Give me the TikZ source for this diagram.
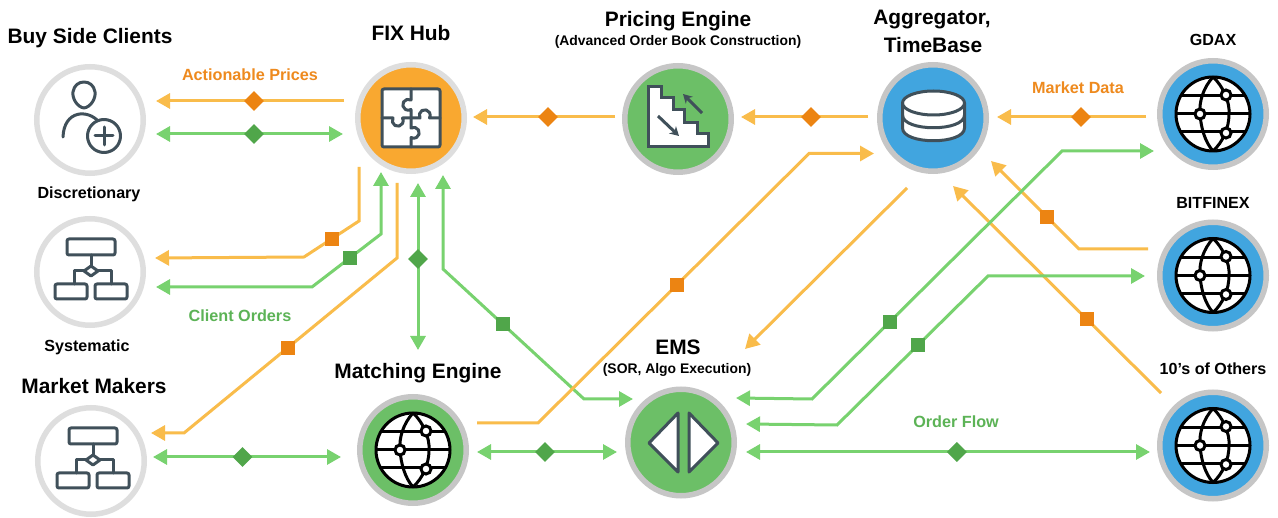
\documentclass[tikz,border=0pt]{standalone}
\usepackage{fontspec}
\setmainfont{Liberation Sans}
\usetikzlibrary{arrows.meta,shapes.geometric}
\definecolor{lineO}{HTML}{F9BC4B}
\definecolor{lineG}{HTML}{78D26F}
\definecolor{markO}{HTML}{EC8412}
\definecolor{markG}{HTML}{50A64A}
\definecolor{fillO}{HTML}{F9A830}
\definecolor{fillG}{HTML}{6CBF67}
\definecolor{fillB}{HTML}{41A5DF}
\definecolor{ringL}{HTML}{DEDEDE}
\definecolor{ringD}{HTML}{C6C6C6}
\definecolor{slate}{HTML}{40505A}
\definecolor{txtO}{HTML}{EE8A1E}
\definecolor{txtG}{HTML}{5CB356}
\newcommand{\fs}[1]{\fontsize{#1}{#1}\selectfont\bfseries}
\tikzset{
  hub/.style={circle,inner sep=0pt,minimum size=106.5pt,line width=5.5pt,draw=ringD},
  client/.style={hub,draw=ringL,fill=white},
  ol/.style={draw=lineO,line width=3pt},
  gl/.style={draw=lineG,line width=3pt},
  oend/.style={ol,-{Triangle[length=14pt,width=15pt]}},
  gboth/.style={gl,{Triangle[length=14pt,width=15pt]}-{Triangle[length=14pt,width=15pt]}},
  dmdO/.style={diamond,fill=markO,inner sep=0pt,minimum size=20pt},
  dmdG/.style={diamond,fill=markG,inner sep=0pt,minimum size=20pt},
  sqO/.style={rectangle,fill=markO,inner sep=0pt,minimum size=14pt},
  sqG/.style={rectangle,fill=markG,inner sep=0pt,minimum size=14pt},
  head/.style={inner sep=0pt,align=center,font=\fs{20.9}},
  subh/.style={inner sep=0pt,font=\fs{16.1}},
  small/.style={inner sep=0pt,font=\fs{13.9}},
  labO/.style={inner sep=0pt,font=\fs{16.2},text=txtO},
  labG/.style={inner sep=0pt,font=\fs{16.2},text=txtG},
  icon/.style={draw=slate,line width=3pt,line join=round,line cap=round},
  globeicon/.pic={
    \begin{scope}[draw=black,line width=3pt]
      \filldraw[fill=white] (0,0) circle[radius=37];
      \draw (-32,-18) -- (32,-18) (-37,0) -- (37,0) (-32,18) -- (32,18);
      \draw (0,-37) .. controls (-10,-26) and (-14,-12) .. (-13,0) .. controls (-12,14) and (-8,28) .. (0,37);
      \draw (0,-37) .. controls (10,-28) and (17,-12) .. (16,0) .. controls (16,14) and (10,28) .. (0,37);
      \filldraw[fill=white] (-13,0) circle[radius=5];
      \filldraw[fill=white] (13,-19) circle[radius=5];
      \filldraw[fill=white] (13,19) circle[radius=5];
    \end{scope}
  },
  flowicon/.pic={
    \begin{scope}[icon]
      \draw[rounded corners=2pt] (-24,-32) rectangle (24,-16);
      \draw (0,-16) -- (0,-5);
      \draw (-7,0) -- (-17,0) -- (-17,13);
      \draw (7,0) -- (20,0) -- (20,13);
      \draw (0,-5) -- (7,0) -- (0,5) -- (-7,0) -- cycle;
      \draw[rounded corners=2pt] (-36,13) rectangle (-4,28);
      \draw[rounded corners=2pt] (4,13) rectangle (36,28);
    \end{scope}
  },
  personicon/.pic={
    \begin{scope}[icon]
      \draw (-6,-11) .. controls (-13,-12) and (-18,-21) .. (-17,-27) .. controls (-16,-34) and (-11,-37) .. (-6,-37)
            .. controls (-1,-37) and (4,-34) .. (5,-27) .. controls (6,-21) and (1,-12) .. (-6,-11) -- cycle;
      \draw (-27,18) .. controls (-26,-9) and (-2,-10) .. (9,3);
      \filldraw[fill=white] (14,17) circle[radius=16.5];
      \draw (14,8) -- (14,26) (5,17) -- (23,17);
    \end{scope}
  },
  puzzleicon/.pic={
    \begin{scope}[icon]
      \filldraw[fill=white,rounded corners=2pt] (-29,-29) rectangle (29,29);
      \draw (0,-29) -- (0,-18) arc[start angle=-60,end angle=-300,radius=5.5] -- (0,0)
            -- (0,10) arc[start angle=-120,end angle=120,radius=5.5] -- (0,29);
      \draw (-29,0) -- (-18,0) arc[start angle=210,end angle=-30,radius=5.5] -- (0,0);
      \draw (0,0) -- (9,0) arc[start angle=150,end angle=390,radius=5.5] -- (29,0);
    \end{scope}
  },
  stairsicon/.pic={
    \begin{scope}[icon,line join=miter,line cap=butt]
      \filldraw[fill=white] (-30,-31) -- (-17,-31) -- (-17,-20) -- (-5,-20) -- (-5,-8) -- (6,-8) -- (6,5) -- (19,5) -- (19,16) -- (30,16) -- (30,29) -- (-30,29) -- cycle;
      \draw[-{Stealth[length=9pt,width=10pt]}] (24,-5) -- (5,-24);
      \draw[-{Stealth[length=9pt,width=10pt]}] (-20,-2) -- (1,18);
    \end{scope}
  },
  dbicon/.pic={
    \begin{scope}[icon]
      \filldraw[fill=white] (-31,-15) -- (-31,10) .. controls (-31,27) and (31,27) .. (31,10) -- (31,-15) -- cycle;
      \draw (-31,-3) .. controls (-31,14) and (31,14) .. (31,-3);
      \filldraw[fill=white] (0,-15) ellipse[x radius=31,y radius=12];
    \end{scope}
  },
  emsicon/.pic={
    \begin{scope}[icon]
      \filldraw[fill=white] (-3,-29.5) -- (-32,0.5) -- (-3,29.5) -- cycle;
      \filldraw[fill=white] (8,-29.5) -- (37,0.5) -- (8,29.5) -- cycle;
    \end{scope}
  },
}
\begin{document}
\begin{tikzpicture}[x=1pt,y=-1pt]
\useasboundingbox (0,0) rectangle (1278,518);
\fill[white] (0,0) rectangle (1278,518);
% hubs
\node[client] (buy) at (90,120) {};
\node[client] (sys) at (90,272) {};
\node[client] (mm) at (91,461) {};
\node[hub,draw=ringL,fill=fillO] (fix) at (411,118) {};
\node[hub,fill=fillG] (match) at (413,450) {};
\node[hub,fill=fillG] (price) at (678,119) {};
\node[hub,fill=fillG] (ems) at (681,442.5) {};
\node[hub,fill=fillB] (agg) at (933,118) {};
\node[hub,fill=fillB] (gdax) at (1213,114) {};
\node[hub,fill=fillB] (bit) at (1213,275.5) {};
\node[hub,fill=fillB] (oth) at (1213,445.5) {};
% icons
\pic at (90,119) {personicon};
\pic at (91,271) {flowicon};
\pic at (93,460) {flowicon};
\pic at (411,118) {puzzleicon};
\pic at (413,450) {globeicon};
\pic at (678,118) {stairsicon};
\pic at (681,442.5) {emsicon};
\pic at (933.5,118) {dbicon};
\pic at (1213,114) {globeicon};
\pic at (1213,275.5) {globeicon};
\pic at (1213,445.5) {globeicon};
% connector ends
\coordinate (a1) at (344,101); \coordinate (a2) at (156,101);
\coordinate (b1) at (156,134); \coordinate (b2) at (343,134);
\coordinate (c1) at (359,167); \coordinate (c2) at (359,221); \coordinate (c3) at (304,257); \coordinate (c4) at (155,258);
\coordinate (d1) at (156,287); \coordinate (d2) at (312,287); \coordinate (d3) at (381,234); \coordinate (d4) at (381,172);
\coordinate (e1) at (397,183); \coordinate (e2) at (397,258); \coordinate (e3) at (184,433); \coordinate (e4) at (151,433);
\coordinate (f1) at (418,183); \coordinate (f2) at (418,350);
\coordinate (g1) at (443,175); \coordinate (g2) at (443,269); \coordinate (g3) at (584,399); \coordinate (g4) at (633,399);
\coordinate (h1) at (153,457); \coordinate (h2) at (341,457);
\coordinate (i1) at (477,452); \coordinate (i2) at (617,452);
\coordinate (j1) at (477,423); \coordinate (j2) at (538,423); \coordinate (j3) at (809,153.5); \coordinate (j4) at (874,153.5);
\coordinate (k1) at (615,117); \coordinate (k2) at (473,117);
\coordinate (l1) at (868,117); \coordinate (l2) at (741,117);
\coordinate (m1) at (1146,117); \coordinate (m2) at (997,117);
\coordinate (n1) at (1148,249); \coordinate (n2) at (1079,249); \coordinate (n3) at (991,161);
\coordinate (o1) at (1161,393); \coordinate (o2) at (953,186);
\coordinate (p1) at (907,188); \coordinate (p2) at (745,349);
\coordinate (q1) at (736,398); \coordinate (q2) at (812,399); \coordinate (q3) at (1062,151); \coordinate (q4) at (1154,151);
\coordinate (r1) at (746,424); \coordinate (r2) at (837,425); \coordinate (r3) at (988,276); \coordinate (r4) at (1145,276);
\coordinate (s1) at (746,452); \coordinate (s2) at (1150,452);
% connectors
\draw[oend] (a1) -- (a2);
\draw[gboth] (b1) -- (b2);
\draw[oend] (c1) -- (c2) -- (c3) -- (c4);
\draw[gboth] (d1) -- (d2) -- (d3) -- (d4);
\draw[oend] (e1) -- (e2) -- (e3) -- (e4);
\draw[gboth] (f1) -- (f2);
\draw[gboth] (g1) -- (g2) -- (g3) -- (g4);
\draw[gboth] (h1) -- (h2);
\draw[gboth] (i1) -- (i2);
\draw[oend] (j1) -- (j2) -- (j3) -- (j4);
\draw[oend] (k1) -- (k2);
\draw[oend] (l1) -- (l2);
\draw[oend] (m1) -- (m2);
\draw[oend] (n1) -- (n2) -- (n3);
\draw[oend] (o1) -- (o2);
\draw[oend] (p1) -- (p2);
\draw[gboth] (q1) -- (q2) -- (q3) -- (q4);
\draw[gboth] (r1) -- (r2) -- (r3) -- (r4);
\draw[gboth] (s1) -- (s2);
% markers
\path (a1) -- node[dmdO,pos=.479] (ma) {} (a2);
\path (b1) -- node[dmdG,pos=.524] (mb) {} (b2);
\path (c2) -- node[sqO,pos=.49] (mc) {} (c3);
\path (d2) -- node[sqG,pos=.55] (md) {} (d3);
\path (e2) -- node[sqO,pos=.512] (me) {} (e3);
\path (f1) -- node[dmdG,pos=.455] (mf) {} (f2);
\path (g2) -- node[sqG,pos=.4255] (mg) {} (g3);
\path (h1) -- node[dmdG,pos=.476] (mh) {} (h2);
\path (i1) -- node[dmdG,pos=.486] (mi) {} (i2);
\path (j2) -- node[sqO,pos=.513] (mj) {} (j3);
\path (k1) -- node[dmdO,pos=.472] (mk) {} (k2);
\path (l1) -- node[dmdO,pos=.449] (ml) {} (l2);
\path (m1) -- node[dmdO,pos=.436] (mm2) {} (m2);
\path (n2) -- node[sqO,pos=.364] (mn) {} (n3);
\path (o1) -- node[sqO,pos=.356] (mo) {} (o2);
\path (q2) -- node[sqG,pos=.312] (mq) {} (q3);
\path (r2) -- node[sqG,pos=.536] (mr) {} (r3);
\path (s1) -- node[dmdG,pos=.522] (ms) {} (s2);
% labels
\node[head] (tbuy) at (90,38.5) {Buy Side Clients};
\node[head] (tfix) at (411,33) {FIX Hub};
\node[head] (tprice) at (678,21) {Pricing Engine};
\node[small] (sprice) at (678,42) {(Advanced Order Book Construction)};
\node[head] (tagg1) at (932,19.5) {Aggregator,};
\node[head] (tagg2) at (933,45) {TimeBase};
\node[subh] (tg) at (1213,39.5) {GDAX};
\node[subh] (tb) at (1213,202.5) {BITFINEX};
\node[subh] (to) at (1213,368.5) {10's of Others};
\node[subh] (td) at (89,194) {Discretionary};
\node[subh] (ts) at (87,347) {Systematic};
\node[head] (tmm) at (94,386.5) {Market Makers};
\node[head] (tme) at (418,373.5) {Matching Engine};
\node[head] (tems) at (678,347.5) {EMS};
\node[small] (sems) at (677,370) {(SOR, Algo Execution)};
\node[labO] (lap) at (250,75) {Actionable Prices};
\node[labO] (lmd) at (1078,87.5) {Market Data};
\node[labG] (lco) at (240,315.5) {Client Orders};
\node[labG] (lof) at (956,422) {Order Flow};
\end{tikzpicture}
\end{document}
